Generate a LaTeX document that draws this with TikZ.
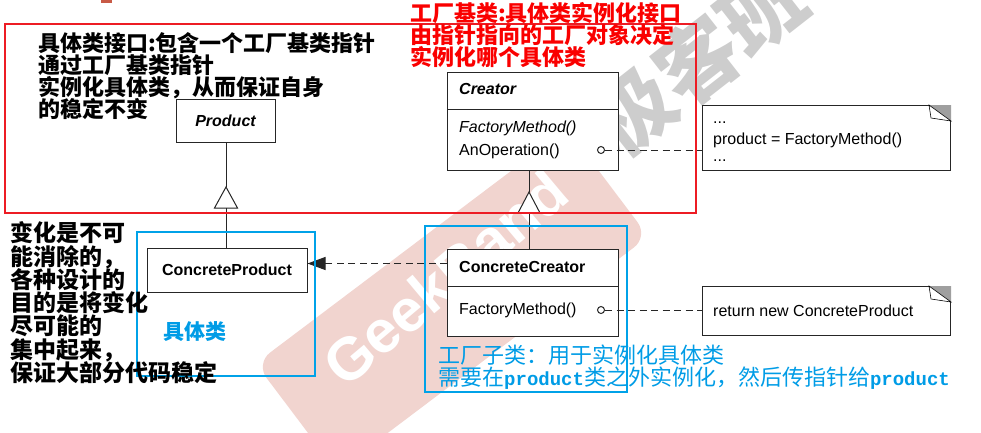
\documentclass[tikz,border=0pt]{standalone}
\usepackage{fontspec}
\setmainfont{Liberation Sans}
\newfontfamily\cjk{Noto Sans CJK SC}
\newfontfamily\monof{Liberation Mono}
\usetikzlibrary{arrows.meta}
\definecolor{redline}{RGB}{237,28,36}
\definecolor{blueline}{RGB}{0,162,232}
\definecolor{bluetext}{RGB}{0,156,230}
\definecolor{redtext}{RGB}{250,0,0}
\definecolor{wmpink}{RGB}{241,212,207}
\definecolor{wmgrey}{RGB}{205,205,205}
\definecolor{rust}{RGB}{200,90,70}
\tikzset{
  box/.style={draw=black!85, line width=1pt, fill=white, inner sep=0pt},
  umltxt/.style={inner sep=0pt, font=\fontsize{16}{18}\selectfont},
  conn/.style={draw=black!85, line width=1pt},
  dline/.style={draw=black!85, line width=1pt, dash pattern=on 7pt off 4.5pt},
  bktxt/.style={inner sep=0pt, anchor=base west, font=\cjk\bfseries\fontsize{22}{22}\selectfont},
  lftxt/.style={inner sep=0pt, anchor=base west, font=\cjk\bfseries\fontsize{23}{23}\selectfont},
  rdtxt/.style={inner sep=0pt, anchor=base west, text=redtext, font=\cjk\bfseries\fontsize{22}{22}\selectfont},
  bltxt/.style={inner sep=0pt, anchor=base west, text=bluetext, font=\cjk\fontsize{22}{22}\selectfont},
  redframe/.style={draw=redline, line width=2.5pt},
  blueframe/.style={draw=blueline, line width=2.5pt},
}
\begin{document}
\begin{tikzpicture}[x=1pt,y=-1pt]
\useasboundingbox (0,0) rectangle (981,432);
% watermark
\node[rotate=37, fill=wmpink, rounded corners=18pt, minimum width=390pt, minimum height=135pt] (wmband) at (452,300) {};
\node[rotate=40, text=white, font=\bfseries\fontsize{60}{60}\selectfont, inner sep=0pt] (wmtext) at (445,278) {GeekBand};
\node[rotate=38, text=wmgrey, font=\cjk\bfseries\fontsize{82}{82}\selectfont, inner sep=0pt] (wmcn) at (697,60) {极客班};
\fill[rust] (101,0) rectangle (112,3);

% Product
\node[box, minimum width=99pt, minimum height=43pt, font=\fontsize{16}{18}\selectfont] (P) at (225.5,120.5) {\bfseries\itshape Product};
% ConcreteProduct
\node[box, minimum width=160pt, minimum height=44pt, font=\fontsize{16}{18}\selectfont] (CP) at (227,270) {\bfseries ConcreteProduct};

% Creator
\node[box, anchor=north west, minimum width=171pt, minimum height=37pt] (Ch) at (447,72) {};
\node[box, anchor=north west, minimum width=171pt, minimum height=61pt] (Cb) at (447,109) {};
\node[umltxt, anchor=west] (Ct) at (459,89) {\bfseries\itshape Creator};
\node[umltxt, anchor=west] (Cf) at (459,128) {\itshape FactoryMethod()};
\node[umltxt, anchor=west] (Ca) at (459,151) {AnOperation()};
\node[circle, draw=black!85, line width=1pt, fill=white, minimum size=7pt, inner sep=0pt] (Co) at (601,150) {};

% ConcreteCreator
\node[box, anchor=north west, minimum width=171pt, minimum height=37pt] (CCh) at (447,249) {};
\node[box, anchor=north west, minimum width=171pt, minimum height=50pt] (CCb) at (447,286) {};
\node[umltxt, anchor=west] (CCt) at (459,267) {\bfseries ConcreteCreator};
\node[umltxt, anchor=west] (CCf) at (459,310) {FactoryMethod()};
\node[circle, draw=black!85, line width=1pt, fill=white, minimum size=7pt, inner sep=0pt] (CCo) at (601,310) {};

% Notes
\node[box, anchor=north west, minimum width=248pt, minimum height=65pt] (N1) at (702,105) {};
\fill[gray!75] ([xshift=-22pt]N1.north east) -- (N1.north east) -- ([yshift=-16pt]N1.north east) -- cycle;
\draw[fill=white, line width=0.6pt] ([xshift=-22pt]N1.north east) -- ([xshift=-20pt,yshift=-13pt]N1.north east) -- ([yshift=-16pt]N1.north east) -- cycle;
\node[umltxt, anchor=base west] (N1a) at (713,123) {...};
\node[umltxt, anchor=west] (N1b) at (713,140) {product = FactoryMethod()};
\node[umltxt, anchor=base west] (N1c) at (713,161) {...};

\node[box, anchor=north west, minimum width=248pt, minimum height=49pt] (N2) at (702,286) {};
\fill[gray!75] ([xshift=-22pt]N2.north east) -- (N2.north east) -- ([yshift=-16pt]N2.north east) -- cycle;
\draw[fill=white, line width=0.6pt] ([xshift=-22pt]N2.north east) -- ([xshift=-20pt,yshift=-13pt]N2.north east) -- ([yshift=-16pt]N2.north east) -- cycle;
\node[umltxt, anchor=west] (N2t) at (713,311) {return new ConcreteProduct};

% connectors
\draw[dline] (Co.east) -- (Co.east -| N1.west);
\draw[dline] (CCo.east) -- (CCo.east -| N2.west);
\draw[dline, -{Triangle[length=18pt,width=13pt]}] ([yshift=4.5pt]CCh.west) -- ([yshift=4.5pt]CCh.west -| CP.east);

% inheritance Product
\coordinate (T1a) at (226,187);
\coordinate (T1b) at (226,208);
\draw[conn] (T1a |- P.south) -- (T1a);
\draw[conn, fill=white] (T1a) -- ([xshift=11.5pt]T1b) -- ([xshift=-11.5pt]T1b) -- cycle;
\draw[conn] (T1b) -- (T1b |- CP.north);
% inheritance Creator
\coordinate (T2a) at (529,192);
\coordinate (T2b) at (529,213);
\draw[conn] (T2a |- Cb.south) -- (T2a);
\draw[conn, fill=white] (T2a) -- ([xshift=11pt]T2b) -- ([xshift=-11pt]T2b) -- cycle;
\draw[conn] (T2b) -- (T2b |- CCh.north);

% frames
\draw[redframe] (5,24) rectangle (696,213);
\draw[blueframe] (137,232) rectangle (315,376);
\draw[blueframe] (425,226) rectangle (627,392);

% texts
\foreach \t [count=\i] in {具体类接口:包含一个工厂基类指针, 通过工厂基类指针, 实例化具体类，从而保证自身, 的稳定不变}
  \node[bktxt] (tl\i) at (38,{51.4+22*(\i-1)}) {\t};
\foreach \t [count=\i] in {工厂基类:具体类实例化接口, 由指针指向的工厂对象决定, 实例化哪个具体类}
  \node[rdtxt] (rt\i) at (410,{21.4+22*(\i-1)}) {\t};
\foreach \t [count=\i] in {变化是不可, 能消除的，, 各种设计的, 目的是将变化, 尽可能的, 集中起来，, 保证大部分代码稳定}
  \node[lftxt] (lb\i) at (10,{241.7+23.3*(\i-1)}) {\t};
\node[inner sep=0pt, text=bluetext, font=\cjk\bfseries\fontsize{21}{21}\selectfont] (jtl) at (195,332) {具体类};
\node[bltxt] (bt1) at (438,363.4) {工厂子类：用于实例化具体类};
\node[bltxt] (bt2) at (438,385.4) {需要在{\monof\bfseries\fontsize{19}{19}\selectfont product}类之外实例化，然后传指针给{\monof\bfseries\fontsize{19}{19}\selectfont product}};
\end{tikzpicture}
\end{document}
